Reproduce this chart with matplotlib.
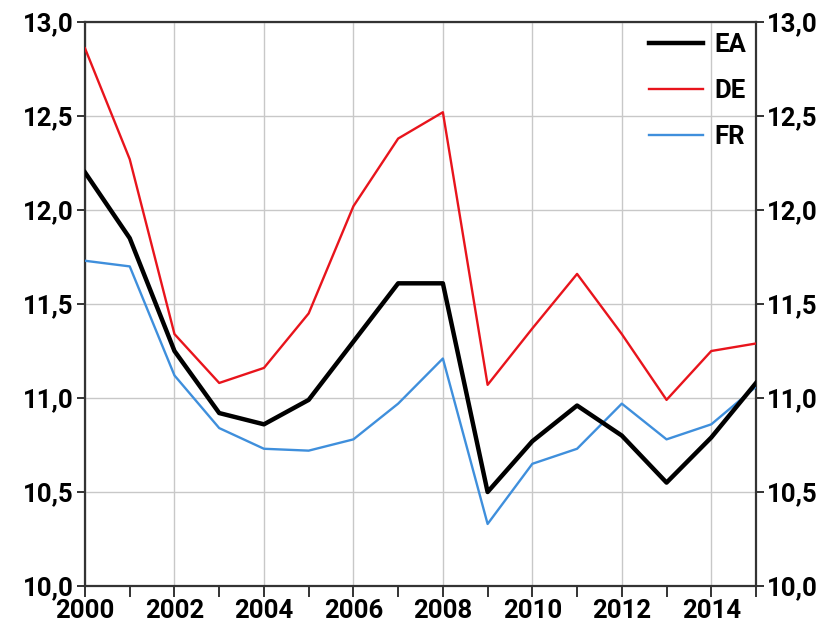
import matplotlib
matplotlib.use("Agg")
import matplotlib.pyplot as plt
from matplotlib.ticker import FuncFormatter, MultipleLocator

years = list(range(2000, 2016))
ea = [12.20, 11.85, 11.25, 10.92, 10.86, 10.99, 11.30, 11.61, 11.61, 10.50, 10.77, 10.96, 10.80, 10.55, 10.79, 11.08]
de = [12.86, 12.27, 11.34, 11.08, 11.16, 11.45, 12.02, 12.38, 12.52, 11.07, 11.37, 11.66, 11.34, 10.99, 11.25, 11.29]
fr = [11.73, 11.70, 11.12, 10.84, 10.73, 10.72, 10.78, 10.97, 11.21, 10.33, 10.65, 10.73, 10.97, 10.78, 10.86, 11.06]
labels = ["EA", "DE", "FR"]
y_ticks = [10.0, 10.5, 11.0, 11.5, 12.0, 12.5, 13.0]
x_ticks = list(range(2000, 2015, 2))

plt.rcParams['font.family'] = ['Roboto', 'DejaVu Sans']
plt.rcParams['font.weight'] = 'bold'

fig = plt.figure(figsize=(8.35, 6.34), dpi=100)
ax = fig.add_axes([0.1018, 0.0757, 0.8036, 0.8896])

ax.plot(years, ea, color="#000000", lw=3.2, label=labels[0], zorder=5)
ax.plot(years, de, color="#e8141c", lw=1.7, label=labels[1], zorder=4)
ax.plot(years, fr, color="#3f8fdc", lw=1.7, label=labels[2], zorder=3)

ax.set_xlim(2000, 2015)
ax.set_ylim(10.0, 13.0)
ax.set_yticks(y_ticks)
ax.set_xticks(x_ticks)
ax.xaxis.set_minor_locator(MultipleLocator(1))
fmt = FuncFormatter(lambda v, p: f"{v:.1f}".replace(".", ","))
ax.yaxis.set_major_formatter(fmt)
ax.grid(True, which='major', color="#c8c8c8", lw=1.0)
ax.set_axisbelow(True)

for s in ax.spines.values():
    s.set_color("#333333")
    s.set_linewidth(1.6)

ax.tick_params(axis='y', which='major', direction='out', length=6, width=1.4, color="#333333",
               labelsize=18.5, pad=2, left=True, right=True, labelleft=True, labelright=True)
ax.tick_params(axis='x', which='both', direction='out', length=8, width=1.4, color="#333333",
               labelsize=18.5, pad=1)

leg = ax.legend(loc='upper right', frameon=False, fontsize=18.5, handlelength=2.1,
                handletextpad=0.45, labelspacing=0.86, borderaxespad=0.3,
                bbox_to_anchor=(1.013, 1.012))

fig.savefig("out.png", dpi=100)
